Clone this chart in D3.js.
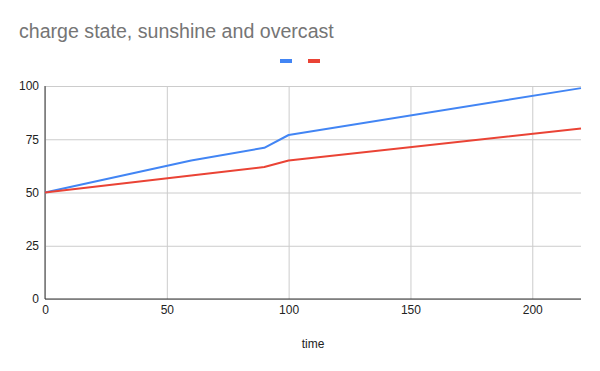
<!DOCTYPE html>
<html>
<head>
<meta charset="utf-8">
<script src="https://cdn.jsdelivr.net/npm/d3@7"></script>
<style>
  body { margin: 0; background: #fff; }
  text { font-family: "Liberation Sans", Arial, sans-serif; }
</style>
</head>
<body>
<figure id="line" style="margin:0"></figure>
<script>
// chart data
const sunshineTime = [0, 60, 90, 100, 220];
const sunshineCharge = [50, 65, 71, 77, 99];
const overcastTime = [0, 60, 90, 100, 220];
const overcastCharge = [50, 58, 62, 65, 80];
const xTicks = [0, 50, 100, 150, 200];
const yTicks = [0, 25, 50, 75, 100];

const width = 600, height = 371;
const margin = { top: 86, right: 19, bottom: 72, left: 45 };
const innerW = width - margin.left - margin.right;
const innerH = height - margin.top - margin.bottom;

const svg = d3.select("figure#line")
  .append("svg")
    .attr("width", width)
    .attr("height", height);

// title
svg.append("text")
  .attr("x", 19)
  .attr("y", 38)
  .attr("fill", "#757575")
  .style("font-size", "19.6px")
  .text("charge state, sunshine and overcast");

const g = svg.append("g")
  .attr("transform", "translate(" + margin.left + "," + margin.top + ")");

const x = d3.scaleLinear().domain([0, 220]).range([0, innerW]);
const y = d3.scaleLinear().domain([0, 100]).range([innerH, 0]);

// gridlines
g.append("g")
  .call(d3.axisLeft(y).tickValues(yTicks).tickSize(-innerW).tickFormat(""))
  .call(a => a.select(".domain").remove())
  .selectAll("line").attr("stroke", "#cccccc");

g.append("g")
  .attr("transform", "translate(0," + innerH + ")")
  .call(d3.axisBottom(x).tickValues(xTicks).tickSize(-innerH).tickFormat(""))
  .call(a => a.select(".domain").remove())
  .selectAll("line").attr("stroke", "#cccccc");

// axes
const yAxis = g.append("g")
  .call(d3.axisLeft(y).tickValues(yTicks).tickSize(0).tickPadding(6));
yAxis.select(".domain").remove();
yAxis.selectAll("text").attr("fill", "#222").style("font-size", "12px");

const xAxis = g.append("g")
  .attr("transform", "translate(0," + innerH + ")")
  .call(d3.axisBottom(x).tickValues(xTicks).tickSize(0).tickPadding(6));
xAxis.select(".domain").remove();
xAxis.selectAll("text").attr("fill", "#222").style("font-size", "12px");

g.append("line")
  .attr("x1", 0).attr("x2", 0).attr("y1", 0).attr("y2", innerH)
  .attr("stroke", "#333");
g.append("line")
  .attr("x1", 0).attr("x2", innerW).attr("y1", innerH).attr("y2", innerH)
  .attr("stroke", "#333");

// x axis label
svg.append("text")
  .attr("x", margin.left + innerW / 2)
  .attr("y", 348)
  .attr("text-anchor", "middle")
  .attr("fill", "#222")
  .style("font-size", "12px")
  .text("time");

// lines
const line = d3.line().x(d => x(d[0])).y(d => y(d[1]));
const series = [
  { pts: d3.zip(sunshineTime, sunshineCharge), color: "#4285f4" },
  { pts: d3.zip(overcastTime, overcastCharge), color: "#ea4335" }
];

g.selectAll(".series")
  .data(series)
  .enter()
  .append("path")
    .attr("d", d => line(d.pts))
    .attr("fill", "none")
    .attr("stroke", d => d.color)
    .attr("stroke-width", 2)
    .attr("stroke-linejoin", "round");

// legend (series have no names)
svg.selectAll(".legend")
  .data(series)
  .enter()
  .append("rect")
    .attr("x", (d, i) => 280 + i * 28)
    .attr("y", 59)
    .attr("width", 12)
    .attr("height", 4)
    .attr("fill", d => d.color);
</script>
</body>
</html>
